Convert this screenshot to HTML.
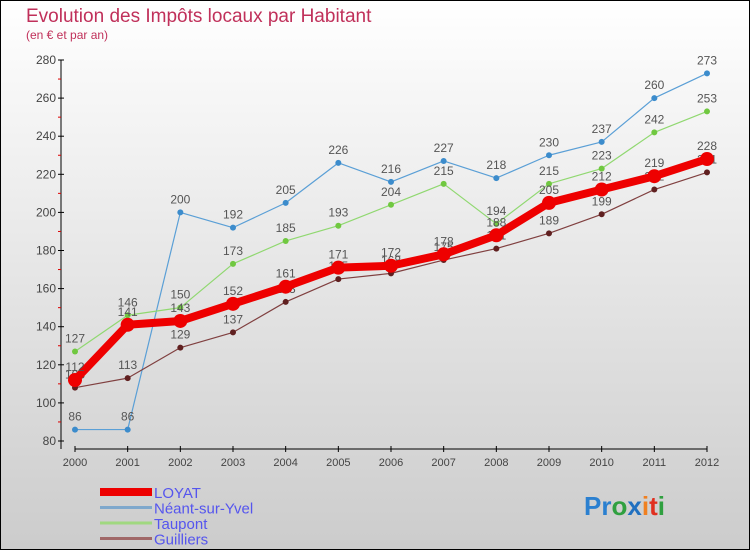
<!DOCTYPE html>
<html><head><meta charset="utf-8"><style>
body{margin:0}
#c{width:750px;height:550px;position:relative;box-sizing:border-box;border:1px solid #000;background:linear-gradient(#fff,#ccc);font-family:"Liberation Sans",sans-serif;overflow:hidden}
</style></head><body>
<div id="c">
<svg id="s" width="750" height="550" style="position:absolute;left:-1px;top:-1px">
<text x="26" y="22" font-size="19" fill="#c0305a">Evolution des Impôts locaux par Habitant</text>
<text x="26" y="39" font-size="12" fill="#c0305a">(en € et par an)</text>
</svg>
</div>
<script>
const years=['2000','2001','2002','2003','2004','2005','2006','2007','2008','2009','2010','2011','2012'];
const loyat=[112,141,143,152,161,171,172,178,188,205,212,219,228];
const neant=[86,86,200,192,205,226,216,227,218,230,237,260,273];
const taupont=[127,146,150,173,185,193,204,215,194,215,223,242,253];
const guilliers=[108,113,129,137,153,165,168,175,181,189,199,212,221];
const yTicks=[80,100,120,140,160,180,200,220,240,260,280];
const seriesNames=['LOYAT','Néant-sur-Yvel','Taupont','Guilliers'];
const NS='http://www.w3.org/2000/svg',s=document.getElementById('s');
const X=i=>75+i*(707-75)/(years.length-1);
const Y=v=>441-(v-80)*(441-60)/200;
function el(t,a,p){const e=document.createElementNS(NS,t);for(const k in a)e.setAttribute(k,a[k]);(p||s).appendChild(e);return e;}
let g=el('g',{});

el('line',{x1:61,y1:60,x2:61,y2:449,stroke:'#000'},g);
yTicks.forEach((v,i)=>{el('line',{x1:58,y1:Y(v),x2:64,y2:Y(v),stroke:'#000'},g);
 if(i<yTicks.length-1)el('line',{x1:58,y1:Y(v+10),x2:61,y2:Y(v+10),stroke:'#d00'},g);
 const t=el('text',{x:56,y:Y(v)+4,'text-anchor':'end','font-size':12,fill:'#444'},g);t.textContent=v;
 });
let gx=el('g',{});

el('line',{x1:75,y1:449,x2:707,y2:449,stroke:'#000'},gx);
years.forEach((y,i)=>{el('line',{x1:X(i),y1:446,x2:X(i),y2:452,stroke:'#000'},gx);
 const t=el('text',{x:X(i),y:466,'text-anchor':'middle','font-size':11,fill:'#444'},gx);t.textContent=y;
 });
function series(d,col,w,r,name,fill){const gg=el('g',{});
 
 el('polyline',{points:d.map((v,i)=>X(i)+','+Y(v)).join(' '),fill:'none',stroke:col,'stroke-width':w,'stroke-linejoin':'round'},gg);
 d.forEach((v,i)=>{const c=el('circle',{cx:X(i),cy:Y(v),r:r,fill:fill},gg);
  
  const t=el('text',{x:X(i),y:Y(v)-9,'text-anchor':'middle','font-size':12,fill:'#555'},gg);t.textContent=v;
  });}
series(neant,'#5a9fd6',1.2,3,'series-neant','#3c8ccc');
series(taupont,'#90d870',1.2,3,'series-taupont','#70c840');
series(guilliers,'#804040',1.2,3,'series-guilliers','#602020');
series(loyat,'#ee0000',8,7,'series-loyat','#ee0000');
const leg=[['#ee0000',8],['#7fa8cc',3],['#a0d880',3],['#a06868',3]];
seriesNames.forEach((n,i)=>{const y=492+i*15.5;const gg=el('g',{});
 
 el('line',{x1:100,y1:y,x2:152,y2:y,stroke:leg[i][0],'stroke-width':leg[i][1]},gg);
 const t=el('text',{x:154,y:y+6,'font-size':15,fill:'#5555ee'},gg);t.textContent=n;});
const lg=el('text',{x:584,y:515,'font-size':26,'font-weight':'bold'});

[['Pr','#2b80d0'],['o','#30a040'],['x','#2070c0'],['i','#f08020'],['t','#e03020'],['i','#30a040']].forEach(([c,f])=>{const sp=el('tspan',{fill:f},lg);sp.textContent=c;});
</script>
</body></html>
